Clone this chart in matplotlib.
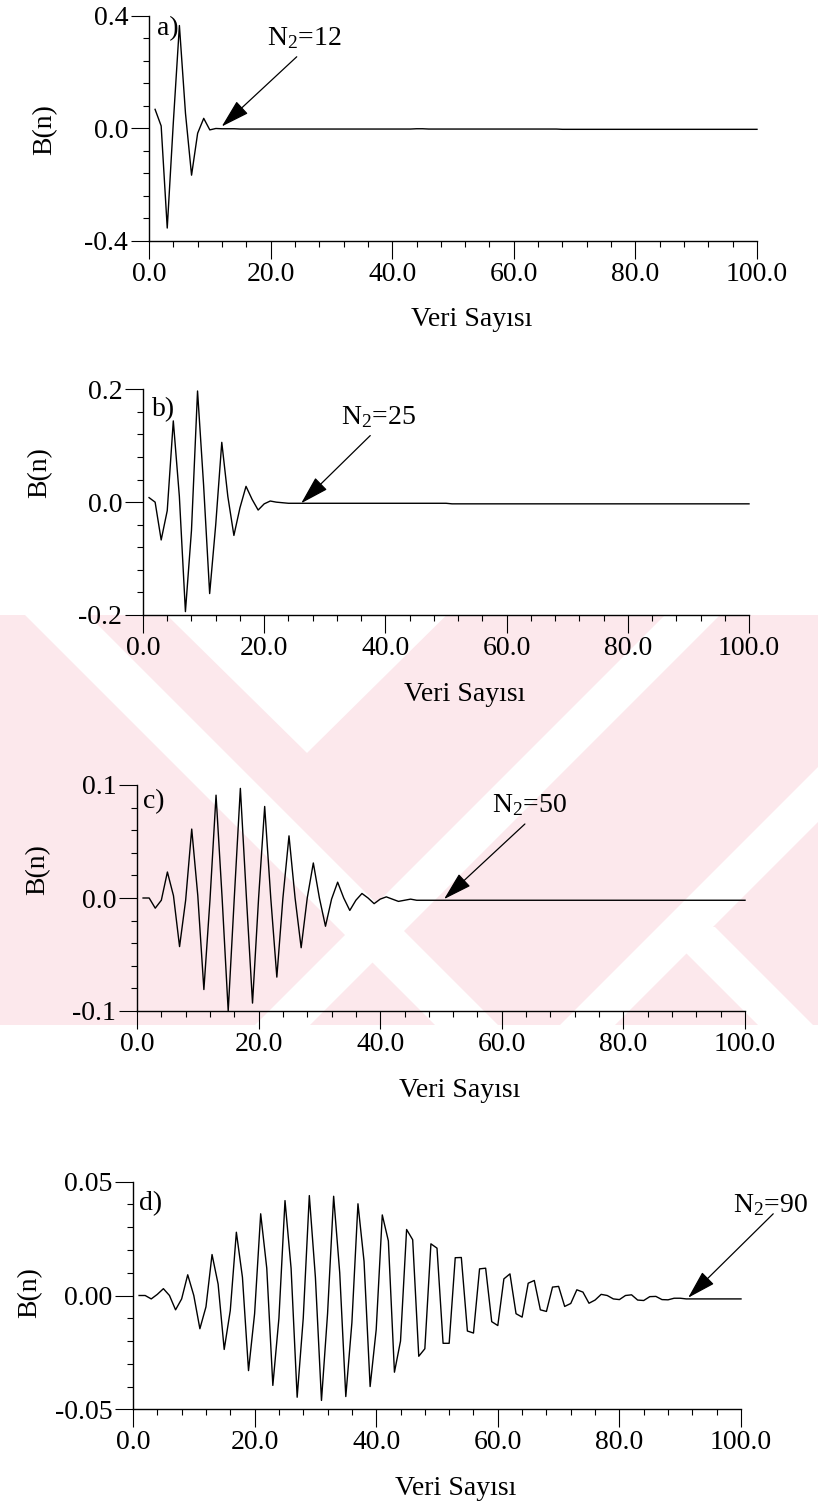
import matplotlib
matplotlib.use('Agg')
import matplotlib.pyplot as plt
from matplotlib.ticker import MultipleLocator, FormatStrFormatter
from matplotlib.patches import Rectangle, Polygon

plt.rcParams['font.family'] = ['Liberation Serif', 'DejaVu Serif']
plt.rcParams['mathtext.fontset'] = 'custom'
plt.rcParams['mathtext.rm'] = 'Liberation Serif'
plt.rcParams['mathtext.it'] = 'Liberation Serif'

# ---------------- data ----------------
n = list(range(1, 101))

b_a = [0.067, 0.008, -0.355, 0.020, 0.365, 0.053, -0.167, -0.018, 0.035, -0.006,
       -0.001, -0.002, -0.002, -0.002, -0.003, -0.003, -0.003, -0.003, -0.003, -0.003,
       -0.003, -0.003, -0.003, -0.003, -0.003, -0.003, -0.003, -0.003, -0.003, -0.003,
       -0.003, -0.003, -0.003, -0.003, -0.003, -0.003, -0.003, -0.003, -0.003, -0.003,
       -0.003, -0.003, -0.003, -0.002, -0.002, -0.003, -0.003, -0.003, -0.003, -0.003,
       -0.003, -0.003, -0.003, -0.003, -0.003, -0.003, -0.003, -0.003, -0.003, -0.003,
       -0.003, -0.003, -0.003, -0.003, -0.003, -0.003, -0.003, -0.004, -0.004, -0.004,
       -0.004, -0.004, -0.004, -0.004, -0.004, -0.004, -0.004, -0.004, -0.004, -0.004,
       -0.004, -0.004, -0.004, -0.004, -0.004, -0.004, -0.004, -0.004, -0.004, -0.004,
       -0.004, -0.004, -0.004, -0.004, -0.004, -0.004, -0.004, -0.004, -0.004, -0.004]

b_b = [0.008, 0.000, -0.067, -0.015, 0.144, 0.010, -0.194, -0.050, 0.197, 0.030,
       -0.162, -0.040, 0.106, 0.010, -0.059, -0.010, 0.028, 0.005, -0.014, -0.003,
       0.002, 0.000, -0.001, -0.002, -0.002, -0.002, -0.002, -0.002, -0.002, -0.002,
       -0.002, -0.002, -0.002, -0.002, -0.002, -0.002, -0.002, -0.002, -0.002, -0.002,
       -0.002, -0.002, -0.002, -0.002, -0.002, -0.002, -0.002, -0.002, -0.002, -0.002,
       -0.003, -0.003, -0.003, -0.003, -0.003, -0.003, -0.003, -0.003, -0.003, -0.003,
       -0.003, -0.003, -0.003, -0.003, -0.003, -0.003, -0.003, -0.003, -0.003, -0.003,
       -0.003, -0.003, -0.003, -0.003, -0.003, -0.003, -0.003, -0.003, -0.003, -0.003,
       -0.003, -0.003, -0.003, -0.003, -0.003, -0.003, -0.003, -0.003, -0.003, -0.003,
       -0.003, -0.003, -0.003, -0.003, -0.003, -0.003, -0.003, -0.003, -0.003, -0.003]

b_c = [0.000, 0.000, -0.009, -0.002, 0.023, 0.002, -0.043, -0.002, 0.061, 0.002,
       -0.081, -0.002, 0.091, 0.000, -0.100, 0.000, 0.097, 0.000, -0.093, 0.000,
       0.081, 0.000, -0.070, 0.000, 0.055, 0.000, -0.044, 0.000, 0.031, 0.000,
       -0.025, -0.001, 0.014, 0.000, -0.011, -0.002, 0.004, 0.000, -0.005, -0.001,
       0.001, -0.001, -0.003, -0.002, -0.001, -0.002, -0.002, -0.002, -0.002, -0.002,
       -0.002, -0.002, -0.002, -0.002, -0.002, -0.002, -0.002, -0.002, -0.002, -0.002,
       -0.002, -0.002, -0.002, -0.002, -0.002, -0.002, -0.002, -0.002, -0.002, -0.002,
       -0.002, -0.002, -0.002, -0.002, -0.002, -0.002, -0.002, -0.002, -0.002, -0.002,
       -0.002, -0.002, -0.002, -0.002, -0.002, -0.002, -0.002, -0.002, -0.002, -0.002,
       -0.002, -0.002, -0.002, -0.002, -0.002, -0.002, -0.002, -0.002, -0.002, -0.002]

b_d = [0.0000, 0.0000, -0.0015, 0.0005, 0.0030, 0.0000, -0.0063, -0.0015, 0.0091, 0.0000,
       -0.0146, -0.0050, 0.0180, 0.0050, -0.0237, -0.0066, 0.0278, 0.0080, -0.0330, -0.0080,
       0.0359, 0.0120, -0.0395, -0.0100, 0.0417, 0.0120, -0.0447, -0.0100, 0.0439, 0.0080,
       -0.0461, -0.0080, 0.0436, 0.0100, -0.0444, -0.0120, 0.0403, 0.0150, -0.0400, -0.0150,
       0.0354, 0.0240, -0.0337, -0.0200, 0.0290, 0.0245, -0.0267, -0.0234, 0.0227, 0.0208,
       -0.0210, -0.0210, 0.0166, 0.0167, -0.0156, -0.0165, 0.0117, 0.0120, -0.0115, -0.0132,
       0.0073, 0.0095, -0.0080, -0.0095, 0.0054, 0.0066, -0.0063, -0.0070, 0.0037, 0.0040,
       -0.0048, -0.0035, 0.0025, 0.0015, -0.0034, -0.0020, 0.0005, 0.0000, -0.0015, -0.0018,
       0.0000, 0.0003, -0.0020, -0.0022, -0.0005, -0.0004, -0.0018, -0.0019, -0.0012, -0.0012,
       -0.0015, -0.0015, -0.0015, -0.0015, -0.0015, -0.0015, -0.0015, -0.0015, -0.0015, -0.0015]

panel_labels = ['a)', 'b)', 'c)', 'd)']
n2_values = [12, 25, 50, 90]
ylims = [0.4, 0.2, 0.1, 0.05]
yfmt = ['%.1f', '%.1f', '%.1f', '%.2f']
xticks = [0, 20, 40, 60, 80, 100]
xlabel = 'Veri Sayısı'
ylabel = 'B(n)'

# ---------------- layout (pixels) ----------------
W, H = 818, 1508
boxes = [(149, 757, 15.7, 240.7),
         (143, 749, 389.3, 615.0),
         (137, 745, 785.0, 1011.0),
         (133, 741, 1181.7, 1409.3)]
ann_text = [(19.4, 0.296), (32.6, 0.139), (58.4, 0.0758), (98.7, 0.0366)]
ann_start = [(24.3, 0.254), (37.5, 0.118), (63.8, 0.0655), (105.3, 0.0359)]
ann_tip = [(11.96, 0.006), (26.1, -0.002), (50.5, -0.001), (91.3, -0.001)]
lab_pos = [(0.0127, 0.914), (0.0144, 0.879), (0.0094, 0.897), (0.0104, 0.876)]
ylab_px = [(45, 130), (40, 473), (38, 870), (29.5, 1293)]

fig = plt.figure(figsize=(W / 100, H / 100), dpi=100)

# ---------------- background watermark (scanned page decoration) ----------------
bg = fig.add_axes([0, 0, 1, 1], zorder=-10)
bg.set_xlim(0, W)
bg.set_ylim(H, 0)
bg.axis('off')
pink = '#fce8ec'
area = Rectangle((0, 615), W, 410, facecolor=pink, edgecolor='none')
bg.add_patch(area)
white_shapes = [
    [(-90, 500), (-27, 500), (573, 1100), (510, 1100)],
    [(50, 500), (563, 500), (307, 753)],
    [(780, 500), (835, 500), (235, 1100), (180, 1100)],
    [(1085, 500), (1140, 500), (540, 1100), (485, 1100)],
    [(660, 927), (715, 927), (888, 1100), (833, 1100)],
]
for pts in white_shapes:
    p = Polygon(pts, closed=True, facecolor='white', edgecolor='none')
    bg.add_patch(p)
    p.set_clip_path(area)

series = [b_a, b_b, b_c, b_d]

for i, (l, r, t, b) in enumerate(boxes):
    ax = fig.add_axes([l / W, 1 - b / H, (r - l) / W, (b - t) / H])
    ax.patch.set_alpha(0)
    ax.plot(n, series[i], color='k', lw=1.0, clip_on=False)
    ax.set_xlim(0, 100)
    ax.set_ylim(-ylims[i], ylims[i])
    for s in ['top', 'right']:
        ax.spines[s].set_visible(False)
    for s in ['left', 'bottom']:
        ax.spines[s].set_linewidth(1.0)
    ax.set_xticks(xticks)
    ax.xaxis.set_minor_locator(MultipleLocator(4))
    ax.set_yticks([-ylims[i], 0, ylims[i]])
    ax.yaxis.set_minor_locator(MultipleLocator(ylims[i] / 5))
    ax.xaxis.set_major_formatter(FormatStrFormatter('%.1f'))
    ax.yaxis.set_major_formatter(FormatStrFormatter(yfmt[i]))
    ax.tick_params(which='major', direction='out', length=13, width=0.8,
                   labelsize=20, pad=2)
    ax.tick_params(which='minor', direction='out', length=4.3, width=0.8)
    ax.set_xlabel(xlabel, fontsize=20)
    ax.xaxis.set_label_coords(0.531, -85.7 / (b - t))
    ax.xaxis.label.set_va('baseline')
    ax.set_ylabel(ylabel, fontsize=20)
    ax.yaxis.set_label_coords((ylab_px[i][0] - l) / (r - l),
                              (b - ylab_px[i][1]) / (b - t))
    ax.yaxis.label.set_va('center')
    ax.text(lab_pos[i][0], lab_pos[i][1], panel_labels[i], transform=ax.transAxes,
            fontsize=20, ha='left', va='baseline')
    ax.text(ann_text[i][0], ann_text[i][1], r'N$_2$=%d' % n2_values[i],
            fontsize=20, ha='left', va='baseline', clip_on=False)
    ax.annotate('', xy=ann_tip[i], xytext=ann_start[i], annotation_clip=False,
                arrowprops=dict(arrowstyle='-|>,head_length=1.2,head_width=0.35',
                                mutation_scale=15, lw=0.9, color='k',
                                shrinkA=0, shrinkB=0))

fig.savefig('out.png', dpi=100)
